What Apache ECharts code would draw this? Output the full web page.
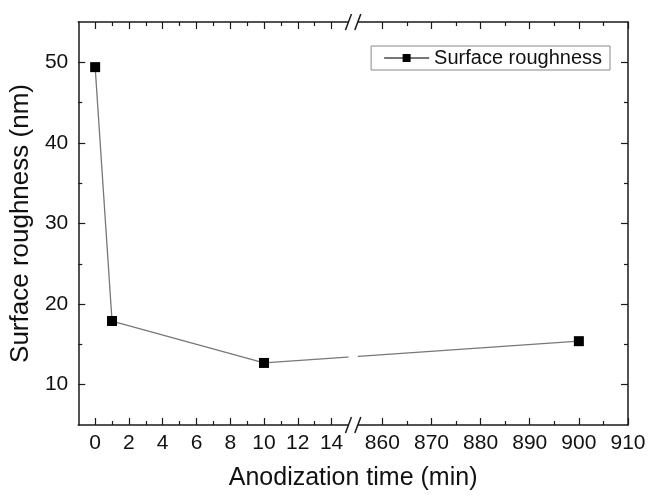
<!DOCTYPE html>
<html><head><meta charset="utf-8">
<script src="https://cdn.jsdelivr.net/npm/echarts@6/dist/echarts.min.js"></script>
<style>html,body{margin:0;padding:0;background:#fff}#c{width:649px;height:496px}</style>
</head><body><div id="c"></div>
<script>
// ---- data ----
const xValues = [0, 1, 10, 900];          // anodization time (min)
const yValues = [49.4, 17.9, 12.7, 15.4]; // surface roughness (nm)
const seriesName = 'Surface roughness';
const xLeftMajor = [0, 2, 4, 6, 8, 10, 12, 14];
const xLeftMinor = [1, 3, 5, 7, 9, 11, 13];
const xRightMajor = [860, 870, 880, 890, 900, 910];
const xRightMinor = [865, 875, 885, 895, 905];
const yMajor = [10, 20, 30, 40, 50];
const yMinor = [15, 25, 35, 45];

// ---- broken x scale: [-1,15] and [855,910] share the axis ----
const L0 = -1, L1 = 15, R0 = 855, R1 = 910;
const leftEnd = 49.15, rightStart = 50.85;
function t(x) {
  return x <= L1 ? (x - L0) / (L1 - L0) * leftEnd
                 : rightStart + (x - R0) / (R1 - R0) * (100 - rightStart);
}
const key = v => v.toFixed(4);
const labelMap = {};
xLeftMajor.concat(xRightMajor).forEach(v => { labelMap[key(t(v))] = String(v); });
const xMajorPos = xLeftMajor.concat(xRightMajor).map(t);
const xMinorPos = xLeftMinor.concat(xRightMinor).map(t);

const FONT = 'Liberation Sans, Arial, sans-serif';
const AX = '#1a1a1a';
const chart = echarts.init(document.getElementById('c'), null, {renderer: 'canvas'});

function xAx(pos, major, labels) {
  return {
    type: 'value', position: pos, min: 0, max: 100,
    splitLine: {show: false},
    axisLine: {show: major, onZero: false, lineStyle: {color: AX, width: 1.5}},
    axisTick: {show: true, inside: true, length: major ? 7 : 4,
      customValues: major ? xMajorPos : xMinorPos, lineStyle: {color: AX, width: 1.2}},
    axisLabel: labels ? {show: true, customValues: xMajorPos, fontFamily: FONT, fontSize: 21, color: '#111', margin: 8,
      formatter: v => labelMap[key(v)] || ''} : {show: false},
    name: labels ? 'Anodization time (min)' : '', nameLocation: 'middle', nameGap: 41,
    nameTextStyle: {fontFamily: FONT, fontSize: 25, color: '#111'}
  };
}
function yAx(pos, major, labels) {
  return {
    type: 'value', position: pos, min: 5, max: 55,
    splitLine: {show: false},
    axisLine: {show: major, onZero: false, lineStyle: {color: AX, width: 1.5}},
    axisTick: {show: true, inside: true, length: major ? 7 : 4,
      customValues: major ? yMajor : yMinor, lineStyle: {color: AX, width: 1.2}},
    axisLabel: labels ? {show: true, customValues: yMajor, fontFamily: FONT, fontSize: 21, color: '#111', margin: 10} : {show: false},
    name: labels ? 'Surface roughness (nm)' : '', nameLocation: 'middle', nameGap: 42, nameRotate: 90,
    nameTextStyle: {fontFamily: FONT, fontSize: 26, color: '#111'}
  };
}

chart.setOption({
  animation: false,
  backgroundColor: '#fff',
  grid: {left: 76, right: 21, top: 22, bottom: 70, containLabel: false},
  xAxis: [xAx('bottom', true, true), xAx('bottom', false, false), xAx('top', true, false), xAx('top', false, false)],
  yAxis: [yAx('left', true, true), yAx('left', false, false), yAx('right', true, false), yAx('right', false, false)],
  legend: {
    data: [seriesName], right: 39, top: 46, orient: 'horizontal',
    itemWidth: 45, itemHeight: 10, padding: [2, 8, 2, 12],
    borderColor: '#888', borderWidth: 1, borderRadius: 0,
    textStyle: {fontFamily: FONT, fontSize: 20, color: '#111'}
  },
  series: [{
    name: seriesName, type: 'line', xAxisIndex: 0, yAxisIndex: 0,
    data: xValues.map((x, i) => [t(x), yValues[i]]),
    symbol: 'rect', symbolSize: 10,
    itemStyle: {color: '#000'},
    lineStyle: {color: '#777', width: 1.3}
  }]
});

// ---- axis-break decorations ----
const xa = chart.convertToPixel({xAxisIndex: 0}, t(L1));
const xb = chart.convertToPixel({xAxisIndex: 0}, t(R0));
const yTop = chart.convertToPixel({yAxisIndex: 0}, 55);
const yBot = chart.convertToPixel({yAxisIndex: 0}, 5);
const g = [];
g.push({type: 'rect', shape: {x: xa, y: yTop + 1, width: xb - xa, height: yBot - yTop - 2},
  style: {fill: '#fff'}, z: 100});
[yTop, yBot].forEach(yy => {
  g.push({type: 'rect', shape: {x: xa, y: yy - 2, width: xb - xa, height: 4}, style: {fill: '#fff'}, z: 100});
  [xa, xb].forEach(xx => {
    g.push({type: 'line', shape: {x1: xx - 3, y1: yy + 8, x2: xx + 3, y2: yy - 8},
      style: {stroke: AX, lineWidth: 1.5}, z: 101});
  });
});
chart.setOption({graphic: g});
</script></body></html>
